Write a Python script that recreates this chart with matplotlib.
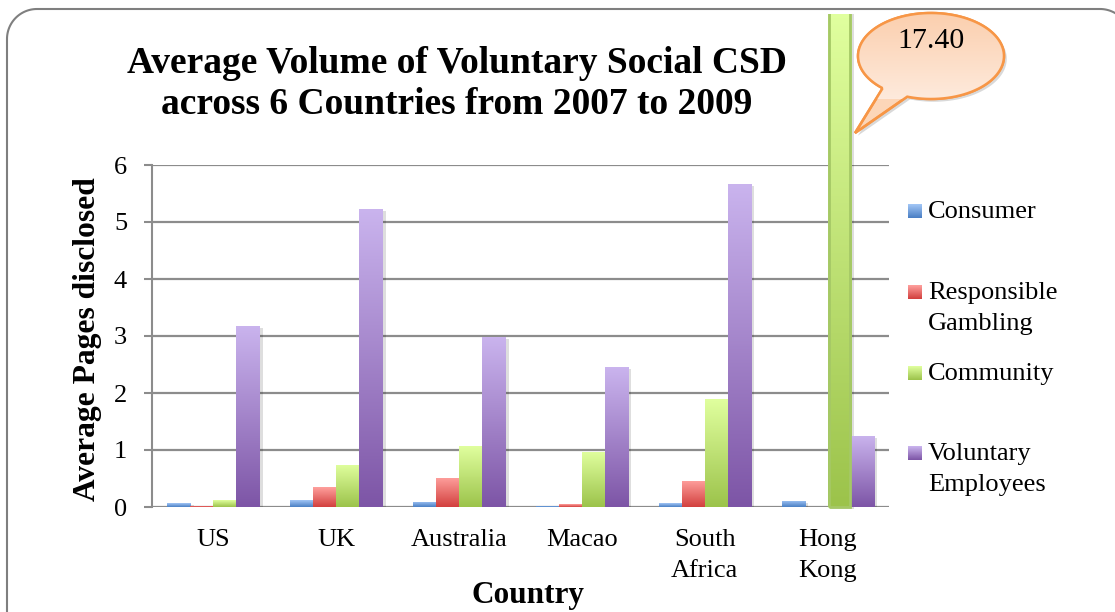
import numpy as np
import matplotlib
matplotlib.use("Agg")
import matplotlib.pyplot as plt
import matplotlib.patheffects as pe
from matplotlib.colors import LinearSegmentedColormap
from matplotlib.patches import Rectangle, PathPatch
from matplotlib.path import Path

plt.rcParams['font.family'] = ['Liberation Serif', 'DejaVu Serif']

countries = ['US', 'UK', 'Australia', 'Macao', 'South\nAfrica', 'Hong\nKong']
series = ['Consumer', 'Responsible\nGambling', 'Community', 'Voluntary\nEmployees']
consumer = [0.07, 0.12, 0.09, 0.02, 0.07, 0.11]
responsible = [0.02, 0.35, 0.51, 0.05, 0.46, 0.0]
community = [0.12, 0.74, 1.07, 0.97, 1.89, 17.40]
employees = [3.18, 5.23, 2.99, 2.45, 5.67, 1.25]
values = [consumer, responsible, community, employees]

# (top, bottom) colours of each series gradient
grads = [('#a2c6f6', '#4a7fc4'),
         ('#ffa09d', '#d2403e'),
         ('#e0ff9e', '#9cc34b'),
         ('#cab4ee', '#7d55a6')]

W, H = 1115, 612
fig = plt.figure(figsize=(W / 100, H / 100), dpi=100)


def px(x0, y0, x1, y1):
    # pixel box (top-left origin) -> figure fraction rect
    return [x0 / W, 1 - y1 / H, (x1 - x0) / W, (y1 - y0) / H]


ax = fig.add_axes(px(152, 165, 889, 507))
ax.set_xlim(-0.5, len(countries) - 0.5)
ax.set_ylim(0, 6)

# figure region inside the outer frame, used to cut the tall bar
frame_clip = Rectangle((0, 0), 1, 1 - 14 / H, transform=fig.transFigure)
vis_top = ax.transData.inverted().transform((0, H - 14))[1]

bw = 0.1875
x = np.arange(len(countries))
shadow = [pe.SimplePatchShadow(offset=(2.5, -1.5), shadow_rgbFace='k', alpha=0.13), pe.Normal()]
for j, (vals, (ctop, cbot)) in enumerate(zip(values, grads)):
    cmap = LinearSegmentedColormap.from_list('g%d' % j, [cbot, ctop])
    bars = ax.bar(x + (j - 1.5) * bw, vals, bw, color=cbot, zorder=2, linewidth=0)
    for b, v in zip(bars, vals):
        b.set_path_effects(shadow)
        top = v
        if v > 6:
            b.set_clip_path(frame_clip)
            top = vis_top
        img = ax.imshow(np.linspace(0, 1, 128).reshape(-1, 1), cmap=cmap, origin='lower',
                        extent=(b.get_x(), b.get_x() + bw, 0, top), aspect='auto',
                        interpolation='bilinear', zorder=2.1)
        img.set_clip_path(b)
        if v > 6:
            img.set_clip_path(frame_clip)
            edge = ax.bar(b.get_x() + bw / 2, v, bw * 0.92, fill=False,
                          edgecolor='#a5c866', linewidth=2, zorder=2.2)
            edge[0].set_clip_path(frame_clip)

ax.set_xlim(-0.5, len(countries) - 0.5)
ax.set_ylim(0, 6)
ax.set_yticks(range(7))
ax.set_xticks(x)
ax.set_xticklabels(countries, linespacing=1.5)
ax.tick_params(axis='x', length=0, pad=16, labelsize=19)
ax.tick_params(axis='y', length=6, width=1.5, color='#8c8c8c', pad=12, labelsize=19)
ax.yaxis.grid(True, color='#8c8c8c', linewidth=1.6)
ax.set_axisbelow(True)
for s in ['top', 'right', 'bottom']:
    ax.spines[s].set_visible(False)
ax.spines['left'].set_color('#8c8c8c')
ax.spines['left'].set_linewidth(1.5)
ax.set_facecolor('none')

# overlay in pixel coordinates for frame, title, legend and callout
ov = fig.add_axes([0, 0, 1, 1], zorder=5)
ov.axis('off')
ov.patch.set_alpha(0)

# rounded outer frame; its right and bottom sides lie past the figure edge
r = 30
fx0, fy0, fx1 = 7, 9, 1130
arc = lambda ccx, ccy, a0, a1: [(ccx + r * np.cos(t), ccy + r * np.sin(t))
                                for t in np.radians(np.linspace(a0, a1, 30))]
frame_pts = ([(fx0, H + 20)] + arc(fx0 + r, fy0 + r, 180, 270) +
             arc(fx1 - r, fy0 + r, 270, 360) + [(fx1, H + 20)])
ov.plot(*zip(*frame_pts), color='#7f7f7f', linewidth=1.5, clip_on=False)

ov.text(457, 84, 'Average Volume of Voluntary Social CSD\nacross 6 Countries from 2007 to 2009',
        ha='center', va='center', fontsize=27, fontweight='bold', linespacing=1.22)
ov.text(88, 339, 'Average Pages disclosed', rotation=90, ha='center', va='center',
        fontsize=22.7, fontweight='bold')
ov.text(528, 596, 'Country', ha='center', va='center', fontsize=22.5, fontweight='bold')

# legend
leg_y = [211, 292, 373, 453]
for (ctop, cbot), label, yc in zip(grads, series, leg_y):
    cmap = LinearSegmentedColormap.from_list('l', [cbot, ctop])
    ov.imshow(np.linspace(0, 1, 32).reshape(-1, 1), cmap=cmap, origin='lower',
              extent=(908, 922, yc + 7, yc - 7), aspect='auto', interpolation='bilinear')
    for k, ln in enumerate(label.split('\n')):
        ov.text(928, yc + 1 + k * 31, ln, ha='left', va='center', fontsize=19)

# speech bubble with the value of the tall bar
cx, cy, a, bb = 931, 56, 73, 43
t = np.radians(np.linspace(131.5, 469, 200))
pts = list(zip(cx + a * np.cos(t), cy + bb * np.sin(t)))
pts.append((855, 133))
pts.append(pts[0])
bubble = PathPatch(Path(pts), facecolor='#fcd6b8', edgecolor='#f79646', linewidth=1.8,
                   zorder=3)
bubble.set_path_effects([pe.SimplePatchShadow(offset=(2, -2), shadow_rgbFace='k', alpha=0.15),
                         pe.Normal()])
ov.add_patch(bubble)
bcmap = LinearSegmentedColormap.from_list('b', ['#feeadc', '#fbcfae'])
bimg = ov.imshow(np.linspace(0, 1, 64).reshape(-1, 1), cmap=bcmap, origin='lower',
                 extent=(cx - a, cx + a, cy + bb, cy - bb), aspect='auto',
                 interpolation='bilinear', zorder=3.1)
bimg.set_clip_path(bubble)
ov.add_patch(PathPatch(Path(pts), facecolor='none', edgecolor='#f79646', linewidth=1.8,
                       zorder=3.2))
ov.text(cx, 41, '%.2f' % community[5], ha='center', va='center', fontsize=21.5, zorder=4)

ov.set_xlim(0, W)
ov.set_ylim(H, 0)

fig.savefig('out.png', dpi=100)
